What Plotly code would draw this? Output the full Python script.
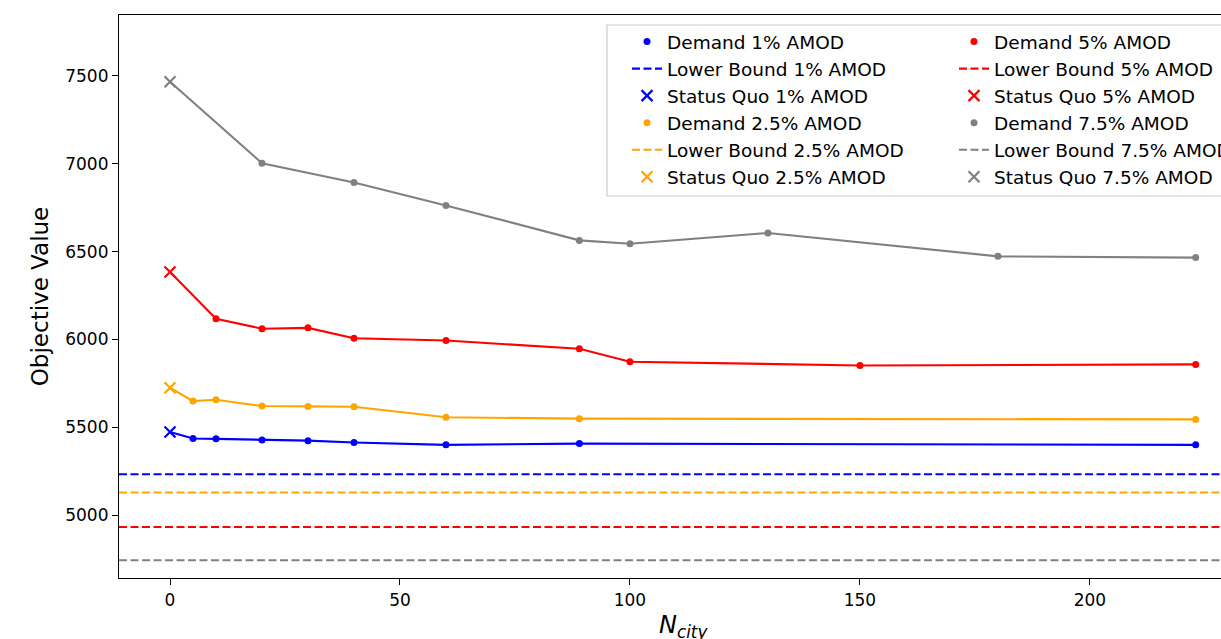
import plotly.graph_objects as go

# ---------------- data ----------------
N_CITY_1 = [5, 10, 20, 30, 40, 60, 89, 223]
DEMAND_1 = [5436, 5434, 5428, 5424, 5413, 5400, 5407, 5400]
SQ_1 = 5473
LB_1 = 5233

N_CITY_25 = [5, 10, 20, 30, 40, 60, 89, 223]
DEMAND_25 = [5649, 5657, 5621, 5619, 5617, 5557, 5549, 5545]
SQ_25 = 5725
LB_25 = 5129

N_CITY_5 = [10, 20, 30, 40, 60, 89, 100, 150, 223]
DEMAND_5 = [6118, 6061, 6066, 6007, 5994, 5947, 5873, 5852, 5858]
SQ_5 = 6384
LB_5 = 4932

N_CITY_75 = [20, 40, 60, 89, 100, 130, 180, 223]
DEMAND_75 = [7003, 6894, 6763, 6564, 6545, 6606, 6473, 6466]
SQ_75 = 7467
LB_75 = 4743

SQ_X = 0
LABELS = ["1%", "2.5%", "5%", "7.5%"]
COLORS = ["#0000ff", "#ffa500", "#ff0000", "#808080"]

X_RANGE = [-11.09, 228.5]
Y_RANGE = [4642, 7847]
X_TICKS = [0, 50, 100, 150, 200]
Y_TICKS = [5000, 5500, 6000, 6500, 7000, 7500]

FONT = "DejaVu Sans"

series = [
    (N_CITY_1, DEMAND_1, SQ_1, LB_1),
    (N_CITY_25, DEMAND_25, SQ_25, LB_25),
    (N_CITY_5, DEMAND_5, SQ_5, LB_5),
    (N_CITY_75, DEMAND_75, SQ_75, LB_75),
]

fig = go.Figure()

for i, ((xs, ys, sq, lb), lab, col) in enumerate(zip(series, LABELS, COLORS)):
    leg = "legend" if i < 2 else "legend2"
    # connecting line (status quo -> demand points)
    fig.add_trace(go.Scatter(
        x=[SQ_X] + xs, y=[sq] + ys, mode="lines",
        line=dict(color=col, width=2.1), showlegend=False, hoverinfo="skip"))
    fig.add_trace(go.Scatter(
        x=xs, y=ys, mode="markers", name=f"Demand {lab} AMOD",
        marker=dict(color=col, size=7, symbol="circle"), legend=leg))
    fig.add_trace(go.Scatter(
        x=X_RANGE, y=[lb, lb], mode="lines", name=f"Lower Bound {lab} AMOD",
        line=dict(color=col, width=2.1, dash="8px,3.5px"), legend=leg))
    fig.add_trace(go.Scatter(
        x=[SQ_X], y=[sq], mode="markers", name=f"Status Quo {lab} AMOD",
        marker=dict(symbol="x-thin", size=11, color=col,
                    line=dict(color=col, width=2.2)), legend=leg))

W, H = 1221, 639
ML, MR, MT, MB = 119, 0, 15, 61
PW, PH = W - ML - MR, H - MT - MB


def px_x(p):
    return (p - ML) / PW


def px_y(p):
    return (H - MB - p) / PH


leg_common = dict(
    xanchor="left", yanchor="top", bgcolor="rgba(0,0,0,0)", borderwidth=0,
    font=dict(family=FONT, size=18.5, color="black"), tracegroupgap=0,
    orientation="v",
)

fig.update_layout(
    width=W, height=H,
    margin=dict(l=ML, r=MR, t=MT, b=MB, autoexpand=False),
    paper_bgcolor="white", plot_bgcolor="white",
    font=dict(family=FONT, size=17, color="black"),
    legend=dict(x=px_x(627), y=px_y(23), **leg_common),
    legend2=dict(x=px_x(954), y=px_y(23), **leg_common),
    xaxis=dict(
        range=X_RANGE, tickvals=X_TICKS, showgrid=False, zeroline=False,
        showline=True, mirror=True, linecolor="black", linewidth=1.2,
        ticks="outside", ticklen=6, tickwidth=1.2, tickcolor="black",
        tickfont=dict(size=17),
    ),
    yaxis=dict(
        range=Y_RANGE, tickvals=Y_TICKS, showgrid=False, zeroline=False,
        showline=True, mirror=False, linecolor="black", linewidth=1.2,
        ticks="outside", ticklen=6, tickwidth=1.2, tickcolor="black",
        tickfont=dict(size=17),
        title=dict(text="Objective Value", font=dict(size=23), standoff=10),
    ),
    shapes=[dict(
        type="rect", xref="paper", yref="paper",
        x0=px_x(607), x1=px_x(1240), y0=px_y(196), y1=px_y(25),
        line=dict(color="#cccccc", width=1.2), fillcolor="rgba(255,255,255,0.8)",
        layer="below")],
    annotations=[dict(
        text="<i>N</i><sub><i>city</i></sub>", xref="paper", yref="paper",
        x=px_x(683), y=px_y(609), xanchor="center", yanchor="top",
        showarrow=False, font=dict(size=24, family=FONT))],
)

fig.write_html(
    "out.html",
    config={"displayModeBar": False},
    post_script="document.body.style.margin='0px';document.body.style.overflow='hidden';",
)
